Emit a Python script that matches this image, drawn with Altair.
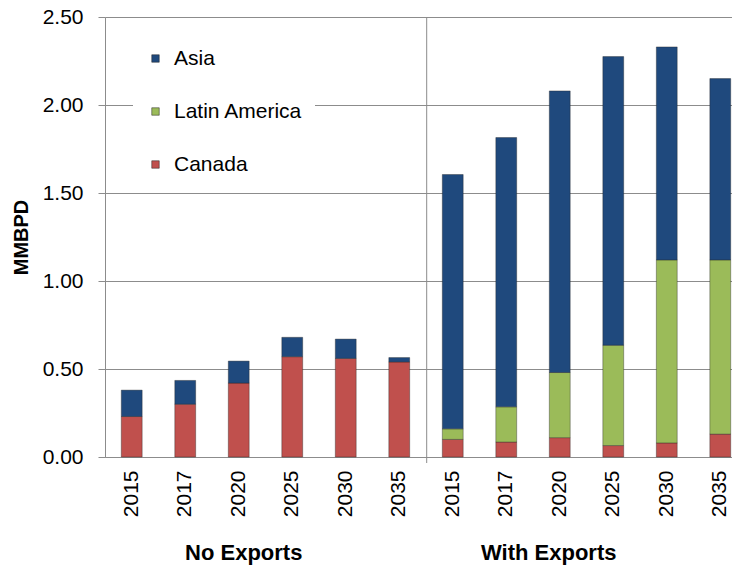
import altair as alt
import pandas as pd

years = ["2015", "2017", "2020", "2025", "2030", "2035"]
groups = ["No Exports", "With Exports"]
regions = ["Asia", "Latin America", "Canada"]
region_colors = ["#1F497D", "#9BBB59", "#C0504D"]

# No Exports scenario (MMBPD)
canada_no = [0.23, 0.30, 0.42, 0.57, 0.56, 0.54]
latam_no = [0.0, 0.0, 0.0, 0.0, 0.0, 0.0]
asia_no = [0.15, 0.135, 0.125, 0.11, 0.11, 0.025]

# With Exports scenario (MMBPD)
canada_with = [0.10, 0.085, 0.11, 0.065, 0.08, 0.13]
latam_with = [0.06, 0.20, 0.37, 0.57, 1.04, 0.99]
asia_with = [1.445, 1.53, 1.60, 1.64, 1.21, 1.03]

y_ticks = [0.0, 0.5, 1.0, 1.5, 2.0, 2.5]

series = {
    "No Exports": {"Canada": canada_no, "Latin America": latam_no, "Asia": asia_no},
    "With Exports": {"Canada": canada_with, "Latin America": latam_with, "Asia": asia_with},
}
stack_order = {"Canada": 0, "Latin America": 1, "Asia": 2}

rows = []
for g in groups:
    for i, yr in enumerate(years):
        for r in ["Canada", "Latin America", "Asia"]:
            v = series[g][r][i]
            if v > 0:
                rows.append({"key": f"{yr}|{g}", "region": r, "value": v,
                             "order": stack_order[r]})
df = pd.DataFrame(rows)
keys = [f"{yr}|{g}" for g in groups for yr in years]

FONT = "Liberation Sans"
GRAY = "#8c8c8c"

xscale = alt.Scale(domain=keys, range=[0, 642], paddingInner=0.61, paddingOuter=0.3045)

bars = alt.Chart(df).mark_bar(stroke="#222222", strokeWidth=0.7, strokeOpacity=0.55).encode(
    x=alt.X("key:N", scale=xscale, sort=keys,
            axis=alt.Axis(title=None, labelExpr="split(datum.label, '|')[0]",
                          labelAngle=270, labelAlign="right", labelBaseline="middle",
                          labelPadding=13, ticks=False, domainColor=GRAY,
                          labelFontSize=21, labelColor="black", labelFont=FONT)),
    y=alt.Y("value:Q", stack="zero", scale=alt.Scale(domain=[0, 2.5], nice=False),
            axis=alt.Axis(values=y_ticks, format=".2f", title="MMBPD",
                          titleFontSize=20, titleFontWeight="bold", titleFont=FONT,
                          titleColor="black", titlePadding=11,
                          labelFontSize=21, labelFont=FONT, labelColor="black",
                          labelPadding=15, tickSize=7, tickColor=GRAY,
                          domainColor=GRAY, gridColor=GRAY, gridWidth=1)),
    color=alt.Color("region:N", scale=alt.Scale(domain=regions, range=region_colors),
                    title=None,
                    legend=alt.Legend(orient="none", legendX=28, legendY=19,
                                      fillColor="white", padding=12,
                                      symbolType="square", symbolSize=56,
                                      symbolStrokeWidth=0.5,
                                      labelFontSize=21, labelFont=FONT,
                                      labelColor="black", labelOffset=8,
                                      rowPadding=31)),
    order=alt.Order("order:Q"),
)

# separator between the two scenario groups (end of the "No Exports" group band)
sep_df = pd.DataFrame({"grp": [groups[0]]})
sep = alt.Chart(sep_df).mark_rule(color=GRAY, strokeWidth=1).encode(
    x=alt.X("grp:N", scale=alt.Scale(domain=groups, range=[0, 643.4],
                                     paddingInner=0, paddingOuter=0),
            bandPosition=1, axis=None),
    y=alt.value(0),
    y2=alt.value(446),
)

lab1 = alt.Chart(pd.DataFrame({"key": ["2020|No Exports"], "label": ["No Exports"]})).mark_text(
    fontSize=22, fontWeight="bold", font=FONT, color="black", baseline="alphabetic", dx=5
).encode(
    x=alt.X("key:N", scale=xscale, sort=keys, axis=None),
    y=alt.value(543),
    text="label:N",
)

lab2 = alt.Chart(pd.DataFrame({"key": ["2020|With Exports"], "label": ["With Exports"]})).mark_text(
    fontSize=22, fontWeight="bold", font=FONT, color="black", baseline="alphabetic", dx=-11
).encode(
    x=alt.X("key:N", scale=xscale, sort=keys, axis=None),
    y=alt.value(543),
    text="label:N",
)

chart = alt.layer(bars, sep, lab1, lab2).resolve_scale(x="independent").properties(
    width=627, height=440,
    padding={"left": 97, "top": 9, "right": 0, "bottom": 108},
    autosize=alt.AutoSizeParams(type="none"),
).configure_view(strokeWidth=0).configure(font=FONT)

chart.save("out.html", embed_options={"renderer": "svg", "actions": False})
